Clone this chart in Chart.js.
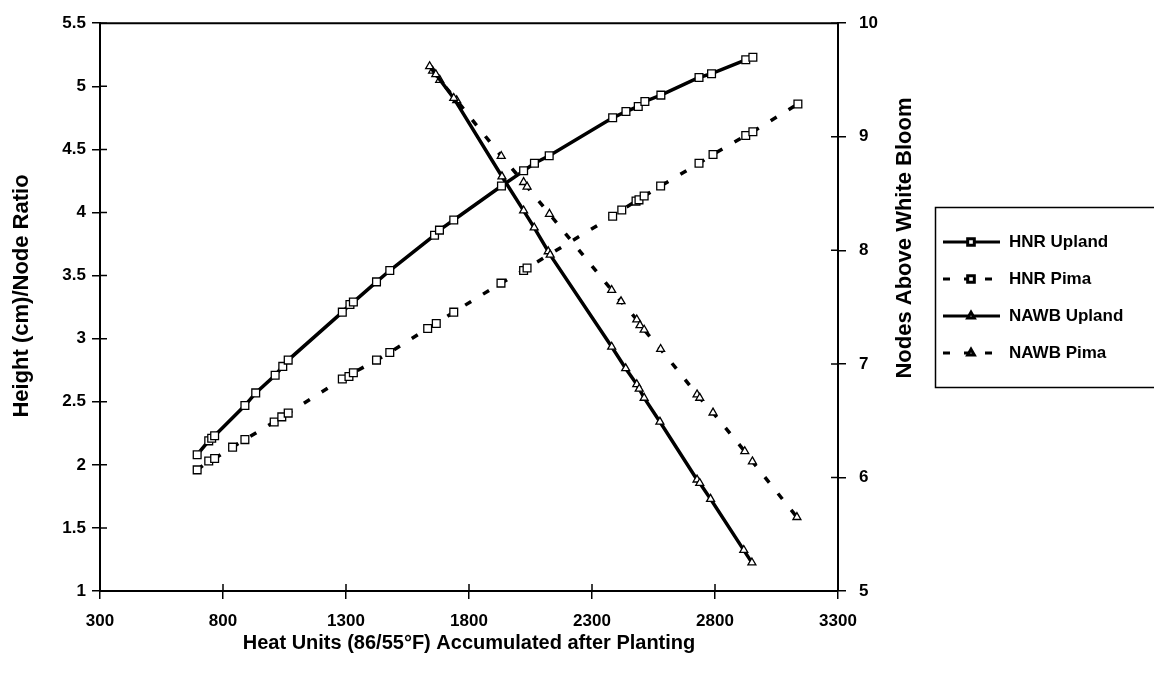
<!DOCTYPE html>
<html><head><meta charset="utf-8">
<script src="https://cdn.jsdelivr.net/npm/chart.js@4/dist/chart.umd.min.js"></script>
<style>html,body{margin:0;padding:0;background:#fff;} canvas{display:block;}</style>
</head><body>
<canvas id="c" width="1154" height="685"></canvas>
<script>
const xTickValues = [300, 800, 1300, 1800, 2300, 2800, 3300];
const leftTickValues = [1, 1.5, 2, 2.5, 3, 3.5, 4, 4.5, 5, 5.5];
const rightTickValues = [5, 6, 7, 8, 9, 10];
const seriesNames = ['HNR Upland', 'HNR Pima', 'NAWB Upland', 'NAWB Pima'];
const xTitle = 'Heat Units (86/55\u00B0F) Accumulated after Planting';
const leftTitle = 'Height (cm)/Node Ratio';
const rightTitle = 'Nodes Above White Bloom';

const hnrUplandX = [695,742,754,766,889,933,1012,1043,1065,1285,1316,1330,1424,1478,1660,1680,1738,1932,2022,2066,2126,2384,2438,2488,2515,2580,2735,2786,2925,2954];
const hnrUplandY = [2.08,2.19,2.21,2.23,2.47,2.57,2.71,2.78,2.83,3.21,3.27,3.29,3.45,3.54,3.82,3.86,3.94,4.21,4.33,4.39,4.45,4.75,4.80,4.84,4.88,4.93,5.07,5.10,5.21,5.23];
const hnrPimaX = [695,742,766,839,889,1008,1039,1065,1285,1312,1330,1424,1478,1632,1667,1738,1930,2022,2036,2384,2421,2479,2491,2512,2579,2735,2792,2925,2954,3137];
const hnrPimaY = [1.96,2.03,2.05,2.14,2.20,2.34,2.38,2.41,2.68,2.70,2.73,2.83,2.89,3.08,3.12,3.21,3.44,3.54,3.56,3.97,4.02,4.09,4.10,4.13,4.21,4.39,4.46,4.61,4.64,4.86];
const nawbUplandX = [1640,1665,1738,1934,2022,2065,2122,2130,2380,2437,2482,2492,2512,2576,2727,2738,2782,2917,2950];
const nawbUplandY = [9.62,9.55,9.34,8.65,8.35,8.20,7.99,7.96,7.15,6.96,6.82,6.78,6.70,6.49,5.98,5.95,5.81,5.36,5.25];
const nawbPimaX = [1652,1681,1750,1931,2022,2036,2127,2380,2418,2482,2495,2512,2579,2727,2738,2792,2921,2952,3133];
const nawbPimaY = [9.58,9.50,9.32,8.83,8.60,8.56,8.32,7.65,7.55,7.39,7.34,7.30,7.13,6.73,6.70,6.57,6.23,6.14,5.65];

const FONT = "Arial, 'Liberation Sans', sans-serif";
const DASH = [7, 14];
const pts = (xs, ys) => xs.map((x, i) => ({x: x, y: ys[i]}));

function ds(label, xs, ys, axis, style, dashed) {
  return {
    label: label, data: pts(xs, ys), yAxisID: axis, showLine: true,
    borderColor: '#000', borderWidth: 3.5, borderDash: dashed ? DASH : [],
    pointStyle: style, pointRadius: style === 'rect' ? 5.5 : 4.6,
    pointBackgroundColor: '#fff', pointBorderColor: '#000', pointBorderWidth: 1.3,
    tension: 0, fill: false
  };
}

const framePlugin = {
  id: 'frame',
  afterDraw(chart) {
    const {ctx, chartArea: a, scales} = chart;
    ctx.save();
    ctx.strokeStyle = '#000';
    ctx.lineWidth = 2;
    ctx.beginPath(); ctx.moveTo(a.left - 1, a.top); ctx.lineTo(a.right + 1, a.top); ctx.stroke();
    ctx.lineWidth = 1.5;
    ctx.beginPath();
    xTickValues.forEach(v => { const p = scales.x.getPixelForValue(v); ctx.moveTo(p, a.bottom); ctx.lineTo(p, a.bottom - 7); });
    leftTickValues.forEach(v => { const p = scales.y.getPixelForValue(v); ctx.moveTo(a.left, p); ctx.lineTo(a.left + 7, p); });
    rightTickValues.forEach(v => { const p = scales.y2.getPixelForValue(v); ctx.moveTo(a.right, p); ctx.lineTo(a.right - 7, p); });
    ctx.stroke();

    // titles
    ctx.fillStyle = '#000';
    ctx.textAlign = 'center';
    ctx.textBaseline = 'middle';
    ctx.font = 'bold 20px ' + FONT;
    ctx.fillText(xTitle, (a.left + a.right) / 2, 643);
    ctx.font = 'bold 22px ' + FONT;
    ctx.save(); ctx.translate(22, 296); ctx.rotate(-Math.PI / 2); ctx.fillText(leftTitle, 0, 0); ctx.restore();
    ctx.save(); ctx.translate(905, 238); ctx.rotate(-Math.PI / 2); ctx.fillText(rightTitle, 0, 0); ctx.restore();

    // legend
    ctx.lineWidth = 1.5;
    ctx.strokeRect(935.5, 207.5, 240, 180);
    chart.data.datasets.forEach((d, i) => {
      const y = 242 + i * 37;
      ctx.save();
      ctx.strokeStyle = '#000';
      ctx.lineWidth = 3;
      if (d.borderDash.length) {
        ctx.setLineDash([7, 14]);
        ctx.lineDashOffset = 0;
      }
      ctx.beginPath(); ctx.moveTo(943, y); ctx.lineTo(1000, y); ctx.stroke();
      ctx.setLineDash([]);
      ctx.fillStyle = '#fff';
      ctx.strokeStyle = '#000';
      Chart.helpers.drawPoint(ctx, {pointStyle: d.pointStyle, radius: d.pointRadius - 0.8, borderWidth: 1.2, rotation: 0}, 971, y);
      ctx.restore();
      ctx.fillStyle = '#000';
      ctx.textAlign = 'left';
      ctx.font = 'bold 17px ' + FONT;
      ctx.fillText(d.label, 1009, y);
    });
    ctx.restore();
  }
};

const tickFont = {family: FONT, size: 17, weight: 'bold'};
const gridOpts = {drawOnChartArea: false, color: '#000', lineWidth: 1.5, tickLength: 8};
const borderOpts = {display: true, color: '#000', width: 2};

new Chart(document.getElementById('c'), {
  type: 'scatter',
  data: {
    datasets: [
      ds(seriesNames[0], hnrUplandX, hnrUplandY, 'y', 'rect', false),
      ds(seriesNames[1], hnrPimaX, hnrPimaY, 'y', 'rect', true),
      ds(seriesNames[2], nawbUplandX, nawbUplandY, 'y2', 'triangle', false),
      ds(seriesNames[3], nawbPimaX, nawbPimaY, 'y2', 'triangle', true)
    ]
  },
  options: {
    responsive: false, animation: false, devicePixelRatio: 1,
    layout: {padding: {top: 17, right: 234, bottom: 0, left: 0}},
    plugins: {legend: {display: false}, tooltip: {enabled: false}},
    scales: {
      x: {
        type: 'linear', min: 300, max: 3300,
        afterBuildTicks: s => { s.ticks = xTickValues.map(v => ({value: v})); },
        afterFit: s => { s.height = 94; },
        ticks: {font: tickFont, color: '#000', padding: 12, callback: v => String(v), maxRotation: 0},
        grid: gridOpts, border: borderOpts
      },
      y: {
        type: 'linear', position: 'left', min: 1, max: 5.5,
        afterBuildTicks: s => { s.ticks = leftTickValues.map(v => ({value: v})); },
        afterFit: s => { s.width = 100; },
        ticks: {font: tickFont, color: '#000', padding: 6, callback: v => String(v)},
        grid: gridOpts, border: borderOpts
      },
      y2: {
        type: 'linear', position: 'right', min: 5, max: 10,
        afterBuildTicks: s => { s.ticks = rightTickValues.map(v => ({value: v})); },
        afterFit: s => { s.width = 82; },
        ticks: {font: tickFont, color: '#000', padding: 13, callback: v => String(v)},
        grid: gridOpts, border: borderOpts
      }
    }
  },
  plugins: [framePlugin]
});
</script>
</body></html>
